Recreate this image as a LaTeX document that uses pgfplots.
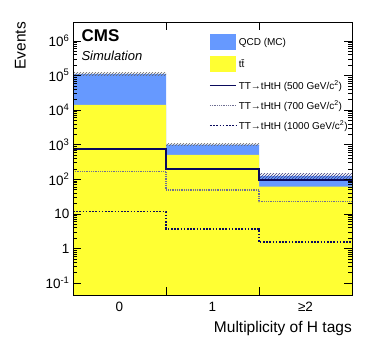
\documentclass[border=0pt]{standalone}
\usepackage{fontspec}
\setmainfont{Liberation Sans}
\usepackage{pgfplots}
\pgfplotsset{compat=1.18}
\usetikzlibrary{patterns}

\definecolor{qcdblue}{HTML}{6699FF}
\definecolor{ttyellow}{HTML}{FFFF33}
\definecolor{sigblue}{HTML}{0A0A5C}
\definecolor{sig700}{HTML}{6E6E92}

\pgfplotsset{
  linelegend/.style={legend image code/.code={\draw[##1] (0pt,0pt) -- (26pt,0pt);}},
  boxlegend/.style={legend image code/.code={\fill[#1] (0pt,-8pt) rectangle (26pt,8pt);}},
}

\begin{document}
\begin{tikzpicture}
\begin{axis}[
    scale only axis,
    width=279pt, height=273pt,
    ymode=log,
    xmin=-0.5, xmax=2.5,
    ymin=0.045, ymax=3.5e6,
    axis on top,
    axis line style={line width=0.9pt},
    xtick={0.5,1.5}, xticklabels={},
    extra x ticks={0,1,2},
    extra x tick labels={0,1,≥2},
    extra x tick style={major tick length=0pt},
    xticklabel style={yshift=-4pt},
    ytick={0.1,1,10,100,1000,10000,100000,1000000},
    yticklabels={10\textsuperscript{-1},1,10,10\textsuperscript{2},10\textsuperscript{3},10\textsuperscript{4},10\textsuperscript{5},10\textsuperscript{6}},
    major tick length=8pt, minor tick length=4pt,
    tick style={black, line width=0.5pt},
    tick label style={font=\fontsize{13.5}{15}\selectfont},
    xlabel={Multiplicity of H tags},
    ylabel={Events},
    label style={font=\fontsize{15.5}{17}\selectfont, inner sep=0pt},
    xlabel style={at={(rel axis cs:1,0)}, anchor=north east, yshift=-26pt},
    ylabel style={at={(rel axis cs:0,1)}, anchor=south east, yshift=47pt},
    legend style={draw=none, fill=none, at={(rel axis cs:0.487,0.955)}, anchor=north west,
        font=\fontsize{10}{11}\selectfont, row sep=6pt, inner sep=0pt,
        cells={anchor=west}},
]
% QCD + ttbar stack total
\addplot[fill=qcdblue, draw=none, boxlegend=qcdblue]
  coordinates {(-0.5,1e-3) (-0.5,1.1e5) (0.5,1.1e5) (0.5,1000) (1.5,1000) (1.5,125) (2.5,125) (2.5,1e-3)};
\addlegendentry{QCD (MC)}
% ttbar
\addplot[fill=ttyellow, draw=none, boxlegend=ttyellow]
  coordinates {(-0.5,1e-3) (-0.5,1.4e4) (0.5,1.4e4) (0.5,505) (1.5,505) (1.5,61) (2.5,61) (2.5,1e-3)};
\addlegendentry{t\={t}}
% uncertainty bands
\addplot[forget plot, draw=none, pattern=north east lines, pattern color=black!60]
  coordinates {(-0.5,1.0e5) (-0.5,1.2e5) (0.5,1.2e5) (0.5,1.0e5)};
\addplot[forget plot, draw=none, pattern=north east lines, pattern color=black!60]
  coordinates {(0.5,930) (0.5,1080) (1.5,1080) (1.5,930)};
\addplot[forget plot, draw=none, pattern=north east lines, pattern color=sigblue!80]
  coordinates {(1.5,105) (1.5,145) (2.5,145) (2.5,105)};
% signals
\addplot[const plot, sigblue, line width=1.7pt, linelegend]
  coordinates {(-0.5,740) (0.5,199) (1.5,95) (2.5,95)};
\addlegendentry{TT→tHtH (500 GeV/c\textsuperscript{2})}
\addplot[const plot, sig700, line width=1.7pt, dash pattern=on 1pt off 0.8pt, linelegend]
  coordinates {(-0.5,167) (0.5,49) (1.5,22.5) (2.5,22.5)};
\addlegendentry{TT→tHtH (700 GeV/c\textsuperscript{2})}
\addplot[const plot, sigblue, line width=1.7pt, dash pattern=on 1.6pt off 1.6pt, linelegend]
  coordinates {(-0.5,11.6) (0.5,3.7) (1.5,1.5) (2.5,1.5)};
\addlegendentry{TT→tHtH (1000 GeV/c\textsuperscript{2})}

\node[anchor=north west, inner sep=0pt, font=\fontsize{17}{19}\selectfont\bfseries] at (rel axis cs:0.03,0.972) {CMS};
\node[anchor=north west, inner sep=0pt, font=\fontsize{13}{15}\selectfont\itshape] at (rel axis cs:0.03,0.895) {Simulation};
\node[anchor=south east, inner sep=0pt, font=\fontsize{14}{16}\selectfont] at (rel axis cs:1,1) [yshift=5pt] {19.7 fb\textsuperscript{-1} (8 TeV)};
\coordinate (ll) at (rel axis cs:0,0);
\end{axis}
\pgfresetboundingbox
\path (ll) ++(-73pt,-56pt) rectangle ++(374pt,351pt);
\end{tikzpicture}
\end{document}
